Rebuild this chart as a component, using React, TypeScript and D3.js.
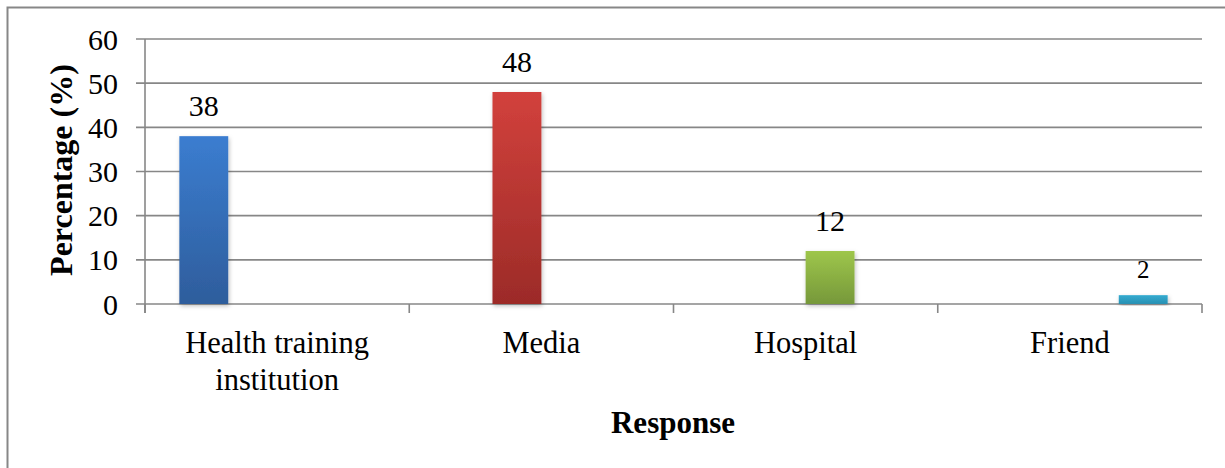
import React from "react";
import * as d3 from "d3";

const categories = ["Health training institution", "Media", "Hospital", "Friend"];
const categoryLines = [["Health training", "institution"], ["Media"], ["Hospital"], ["Friend"]];
const seriesNames = ["Health training institution", "Media", "Hospital", "Friend"];
// Each category holds one value; the other series are empty in that group.
const values = [38, 48, 12, 2];
const yTicks = [0, 10, 20, 30, 40, 50, 60];

const topColors = ["#3b7dd0", "#d2413c", "#9ec64b", "#34abd0"];
const bottomColors = ["#2e5d9c", "#9c2b28", "#76983a", "#2990b3"];

const W = 1225;
const H = 468;
const left = 145;
const right = 1202;
const top = 39;
const bottom = 304;
const font = "'Liberation Serif', 'Times New Roman', serif";

export default function App() {
  const x0 = d3.scaleBand<string>().domain(categories).range([left, right]).paddingInner(0.26).paddingOuter(0.13);
  const x1 = d3.scaleBand<string>().domain(seriesNames).range([0, x0.bandwidth()]).padding(0);
  const y = d3.scaleLinear().domain([0, 60]).range([bottom, top]);
  const step = (right - left) / categories.length;
  const catEdges = d3.range(categories.length + 1).map((i) => left + i * step);

  return (
    <svg width={W} height={H} style={{ position: "absolute", left: 0, top: 0, background: "#fff" }}>
      <defs>
        {topColors.map((c, i) => (
          <linearGradient key={i} id={`g${i}`} x1="0" y1="0" x2="0" y2="1">
            <stop offset="0%" stopColor={c} />
            <stop offset="100%" stopColor={bottomColors[i]} />
          </linearGradient>
        ))}
        <filter id="shadow" x="-20%" y="-20%" width="140%" height="140%">
          <feDropShadow dx="1" dy="2" stdDeviation="2" floodColor="#000" floodOpacity="0.25" />
        </filter>
      </defs>
      <rect x={7.5} y={7.5} width={1240} height={480} fill="#fff" stroke="#878787" strokeWidth={2} />

      {/* gridlines */}
      {yTicks.map((t) => (
        <line key={t} x1={left - 9} x2={right} y1={y(t)} y2={y(t)} stroke="#878787" strokeWidth={1.6} />
      ))}
      <line x1={left} x2={left} y1={top} y2={bottom + 9} stroke="#878787" strokeWidth={1.6} />
      {catEdges.map((cx, i) => (
        <line key={i} x1={cx} x2={cx} y1={bottom} y2={bottom + 9} stroke="#878787" strokeWidth={1.6} />
      ))}

      {/* y tick labels */}
      {yTicks.map((t) => (
        <text key={t} x={left - 27} y={y(t)} dy="0.35em" textAnchor="end" fontFamily={font} fontSize={30} fill="#000">
          {t}
        </text>
      ))}

      {/* bars */}
      {categories.map((c, i) => {
        const s = seriesNames[i];
        const bx = (x0(c) ?? 0) + (x1(s) ?? 0);
        const bw = x1.bandwidth();
        const v = values[i];
        return (
          <g key={c}>
            <rect x={bx} y={y(v)} width={bw} height={y(0) - y(v)} fill={`url(#g${i})`} filter="url(#shadow)" />
            <text
              x={bx + bw / 2}
              y={y(v) - (i === 3 ? 17 : 20)}
              textAnchor="middle"
              fontFamily={font}
              fontSize={i === 3 ? 25 : 30}
              fill="#000"
            >
              {v}
            </text>
          </g>
        );
      })}

      {/* category labels */}
      {categories.map((c, i) => (
        <text key={c} x={catEdges[i] + step / 2} y={353} textAnchor="middle" fontFamily={font} fontSize={30.5} fill="#000">
          {categoryLines[i].map((ln, j) => (
            <tspan key={j} x={catEdges[i] + step / 2} dy={j === 0 ? 0 : 37}>
              {ln}
            </tspan>
          ))}
        </text>
      ))}

      {/* axis titles */}
      <text x={673} y={433} textAnchor="middle" fontFamily={font} fontSize={31} fontWeight="bold" fill="#000">
        Response
      </text>
      <text
        transform={`translate(72,170) rotate(-90)`}
        textAnchor="middle"
        fontFamily={font}
        fontSize={32}
        fontWeight="bold"
        fill="#000"
      >
        Percentage (%)
      </text>
    </svg>
  );
}
